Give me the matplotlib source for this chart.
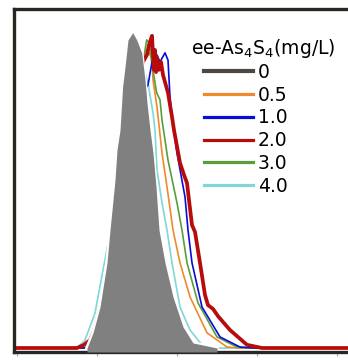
import matplotlib
matplotlib.use('Agg')
import matplotlib.pyplot as plt
from matplotlib.lines import Line2D

plt.rcParams['font.family'] = ['DejaVu Sans']
plt.rcParams['mathtext.default'] = 'regular'

# histogram outlines (x in decades, y in % of max)
x_0 = [0.875, 0.95, 1.0375, 1.125, 1.1625, 1.225, 1.25, 1.2875, 1.32, 1.35, 1.3875, 1.446,
       1.496, 1.559, 1.6, 1.625, 1.6625, 1.70, 1.7375, 1.775, 1.85, 1.95, 2.075, 2.2, 2.5]
y_0 = [0, 4.8, 13.0, 27.0, 37.4, 53.3, 62.8, 69.1, 82.8, 89.1, 97.7, 100,
       97.7, 93.6, 85.0, 77.7, 69.1, 61.8, 51.1, 37.4, 27.0, 16.2, 6.7, 1.6, 0]

x_05 = [-0.05, 0.8, 0.85, 0.95, 1.0375, 1.125, 1.1875, 1.25, 1.3125, 1.3875, 1.475, 1.5375,
        1.575, 1.6375, 1.6875, 1.70, 1.75, 1.775, 1.8125, 1.875, 1.95, 2.0375, 2.1625, 2.375,
        2.625, 2.79, 4.15]
y_05 = [0, 0, 0, 3.8, 12.4, 26.3, 39.0, 54.9, 69.1, 80.2, 86.6, 89.8,
        90.7, 93.9, 92.0, 85.0, 76.4, 70.7, 61.8, 51.1, 37.4, 27.0, 16.2, 4.8,
        0.3, 0, 0]

x_1 = [-0.05, 0.8, 0.8875, 0.9875, 1.0875, 1.175, 1.25, 1.3125, 1.3875, 1.4875, 1.575, 1.6375,
       1.6875, 1.75, 1.7875, 1.85, 1.8875, 1.9125, 1.95, 2.0, 2.1, 2.1375, 2.1875, 2.3125,
       2.5375, 2.7875, 2.975, 4.15]
y_1 = [0, 0, 0, 4.8, 13.6, 27.3, 40.6, 56.5, 69.1, 77.1, 81.2, 83.4,
       90.7, 92.9, 90.7, 93.6, 91.3, 79.6, 70.7, 61.8, 47.9, 37.4, 27.0, 13.0,
       3.5, 0.3, 0, 0]

x_2 = [-0.05, 0.75, 0.8375, 0.9125, 0.9625, 1.05, 1.1375, 1.2, 1.2625, 1.3375, 1.425, 1.5125,
       1.575, 1.625, 1.65, 1.6875, 1.70, 1.7125, 1.725, 1.7375, 1.75, 1.775, 1.8, 1.825,
       1.8875, 1.9375, 1.9625, 2.0375, 2.0875, 2.125, 2.15, 2.1875, 2.225, 2.2875, 2.35,
       2.3875, 2.45, 2.5125, 2.6625, 2.875, 3.0625, 4.15]
y_2 = [0, 0, 1.0, 2.5, 5.4, 13.6, 27.3, 40.6, 56.5, 70.7, 80.2, 86.6,
       90.7, 93.0, 96.1, 99.0, 92.9, 88.2, 94.5, 87.5, 92.0, 88.2, 90.7, 86.6,
       80.9, 73.3, 69.1, 58.7, 54.9, 52.3, 46.9, 39.0, 36.8, 27.0, 16.8,
       13.6, 12.4, 10.1, 5.7, 1.0, 0, 0]

x_3 = [-0.05, 0.8, 0.875, 0.975, 1.0625, 1.15, 1.2125, 1.275, 1.35, 1.4375, 1.5125, 1.575,
       1.621, 1.654, 1.684, 1.746, 1.7875, 1.8125, 1.8875, 2.0, 2.0625, 2.125, 2.2625, 2.5,
       2.75, 2.91, 4.15]
y_3 = [0, 0, 0, 4.8, 13.6, 27.3, 40.6, 56.5, 70.7, 80.2, 86.6, 90.4,
       97.7, 96.7, 90.4, 80.9, 78.7, 72.3, 59.6, 46.0, 37.4, 27.0, 14.3, 3.5,
       0.3, 0, 0]

x_4 = [-0.05, 0.66, 0.7625, 0.85, 0.975, 1.075, 1.1625, 1.225, 1.2875, 1.3625, 1.4375, 1.5125,
       1.575, 1.6375, 1.70, 1.725, 1.75, 1.8125, 1.875, 1.9375, 2.0375, 2.1625, 2.3125, 2.475,
       4.15]
y_4 = [0, 0, 0.3, 2.5, 11.1, 24.7, 36.5, 51.7, 66.0, 78.7, 86.6, 90.7,
       89.1, 84.0, 74.5, 69.1, 56.5, 46.0, 37.4, 27.0, 13.0, 5.7, 1.0, 0,
       0]

labels = ['0', '0.5', '1.0', '2.0', '3.0', '4.0']
colors = ['#4d4843', '#ee8a2c', '#0b0bd6', '#b80c0c', '#5a9e3c', '#80d6d8']

fig = plt.figure(figsize=(3.48, 3.6), dpi=100)
ax = fig.add_axes([14 / 348, 8 / 360, 334 / 348, 343 / 360])

ax.plot(x_4, y_4, color=colors[5], lw=1.2, zorder=2)
ax.plot(x_05, y_05, color=colors[1], lw=1.2, zorder=2)
ax.plot(x_3, y_3, color=colors[4], lw=1.2, zorder=2)
ax.plot(x_1, y_1, color=colors[2], lw=1.2, zorder=2)
ax.plot(x_2, y_2, color=colors[3], lw=2.7, zorder=2.5)

ybot = -1.27
ax.plot(x_0, y_0, color='white', lw=2.5, zorder=3)
ax.fill_between(x_0, y_0, ybot, color='#808080', lw=0, zorder=4)

ax.set_xlim(-0.0375, 4.1375)
ax.set_ylim(ybot, 107.5)
ax.set_xticks([0, 1, 2, 3, 4])
ax.set_xticklabels([])
ax.set_yticks([])
ax.tick_params(axis='x', direction='out', length=3, width=0.8, color='#aaaaaa')

for s in ['left', 'top', 'bottom']:
    ax.spines[s].set_linewidth(2.4)
    ax.spines[s].set_color('#2a2622')
ax.spines['right'].set_visible(False)

ax.text(0.53, 0.886, 'ee-As$_4$S$_4$(mg/L)', transform=ax.transAxes,
        fontsize=13.5, ha='left', va='center')

handles = [Line2D([], [], color=c, lw=3.0 if i == 0 else 2.3) for i, c in enumerate(colors)]
ax.legend(handles, labels, loc='upper left', bbox_to_anchor=(0.569, 0.843),
          frameon=False, fontsize=13.5, handlelength=2.6, handletextpad=0.27,
          labelspacing=0.2, borderpad=0, borderaxespad=0)

fig.savefig('out.png', dpi=100)
